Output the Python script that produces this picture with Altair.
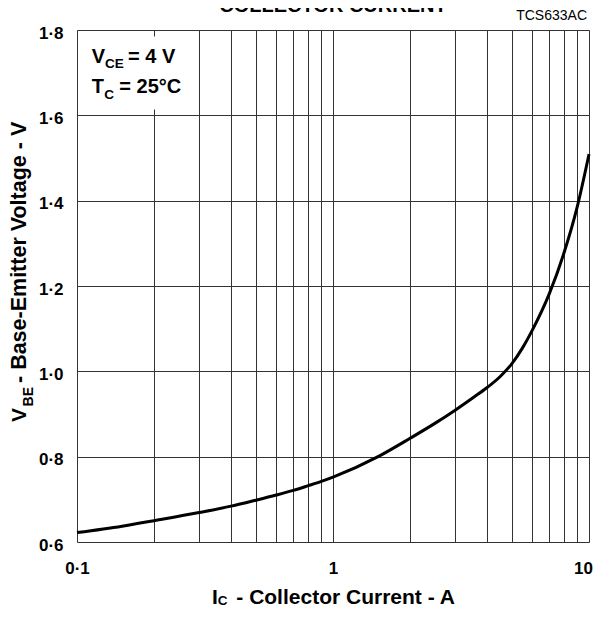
import altair as alt
import pandas as pd

# ---- data ----
current_a = [0.1, 0.15, 0.2, 0.3, 0.4, 0.5, 0.6, 0.7, 0.8, 0.9, 1.0, 1.5, 2.0,
             2.5, 3.0, 3.5, 4.0, 4.5, 5.0, 5.5, 6.0, 7.0, 8.0, 9.0, 10.0]
vbe_v = [0.622, 0.637, 0.650, 0.669, 0.684, 0.698, 0.710, 0.721, 0.732, 0.742,
         0.752, 0.800, 0.843, 0.878, 0.909, 0.937, 0.962, 0.988, 1.018, 1.055,
         1.096, 1.182, 1.279, 1.386, 1.509]

x_grid = [0.1, 0.2, 0.3, 0.4, 0.5, 0.6, 0.7, 0.8, 0.9,
          1, 2, 3, 4, 5, 6, 7, 8, 9, 10]
x_label_values = [0.1, 1, 10]
x_label_texts = ["0·1", "1", "10"]
y_ticks = [0.6, 0.8, 1.0, 1.2, 1.4, 1.6, 1.8]
y_tick_labels = ["0·6", "0·8", "1·0", "1·2", "1·4", "1·6", "1·8"]

title_text = "COLLECTOR CURRENT"
code_text = "TCS633AC"

FONT = "Liberation Sans"


def label_expr(vals, texts):
    expr = "''"
    for v, t in reversed(list(zip(vals, texts))):
        expr = f"abs(datum.value - {v}) < 1e-6 ? '{t}' : ({expr})"
    return expr


curve = pd.DataFrame({"ic": current_a, "vbe": vbe_v})
one = pd.DataFrame({"k": [0]})

# keep the last x label inside the page
last_label_shift = {"condition": {"test": f"datum.value == {x_label_values[-1]}", "value": -6},
                    "value": 0}

line = alt.Chart(curve).mark_line(
    color="black", strokeWidth=3, interpolate="monotone"
).encode(
    x=alt.X("ic:Q", title="",
            scale=alt.Scale(type="log", domain=[0.1, 10], nice=False),
            axis=alt.Axis(values=x_grid, labelExpr=label_expr(x_label_values, x_label_texts),
                          grid=True, gridColor="#333333", gridWidth=1,
                          ticks=False, tickSize=0, domain=False,
                          labelFlush=False, labelOverlap=False, labelPadding=18,
                          labelOffset=last_label_shift,
                          labelFont=FONT, labelFontSize=17, labelFontWeight="bold",
                          labelColor="black")),
    y=alt.Y("vbe:Q", title="",
            scale=alt.Scale(domain=[0.6, 1.8], nice=False, zero=False),
            axis=alt.Axis(values=y_ticks, labelExpr=label_expr(y_ticks, y_tick_labels),
                          grid=True, gridColor="#333333", gridWidth=1,
                          ticks=False, tickSize=0, domain=False,
                          labelFlush=False, labelOverlap=False, labelPadding=14,
                          labelOffset=3,
                          labelFont=FONT, labelFontSize=17, labelFontWeight="bold",
                          labelColor="black")),
)

# white box behind the condition note
box = alt.Chart(one).mark_rect(color="white").encode(
    x=alt.value(2), x2=alt.value(113), y=alt.value(6.4), y2=alt.value(79.4)
)


def txt(text, x, y, size, weight="bold", align="left", angle=0, baseline="alphabetic"):
    return alt.Chart(one).mark_text(
        text=text, font=FONT, fontSize=size, fontWeight=weight, align=align,
        baseline=baseline, angle=angle, color="black"
    ).encode(x=alt.value(x), y=alt.value(y))


texts = [
    # condition note
    txt("V", 14.7, 32.7, 20),
    txt("CE", 28, 37.7, 13.5),
    txt("= 4 V", 51, 32.7, 20),
    txt("T", 14.7, 63.1, 20),
    txt("C", 27.2, 68.7, 13.5),
    txt("= 25°C", 42.3, 63.1, 20),
    # figure code and title (its top runs off the page, as in the reference)
    txt(code_text, 510, -9.6, 14, weight="normal", align="right"),
    txt(title_text, 256, -18, 20, align="center"),
    # x axis title
    txt("I", 135, 573.9, 21),
    txt("C", 140.8, 575.4, 13.5),
    txt("- Collector Current - A", 159.3, 573.9, 21),
    # y axis title (rotated)
    txt("V", -51.3, 392.1, 21, angle=270),
    txt("BE", -43.7, 376.4, 14, angle=270),
    txt("- Base-Emitter Voltage - V", -51.3, 353.0, 21.5, angle=270),
]

chart = alt.layer(box, line, *texts).properties(
    width=512, height=512,
    padding={"left": 69, "top": 22, "right": 4, "bottom": 66},
    autosize="none",
).configure_view(
    stroke="black", strokeWidth=2
).configure(background="white")

chart.save("out.html", embed_options={"renderer": "svg", "actions": False})
